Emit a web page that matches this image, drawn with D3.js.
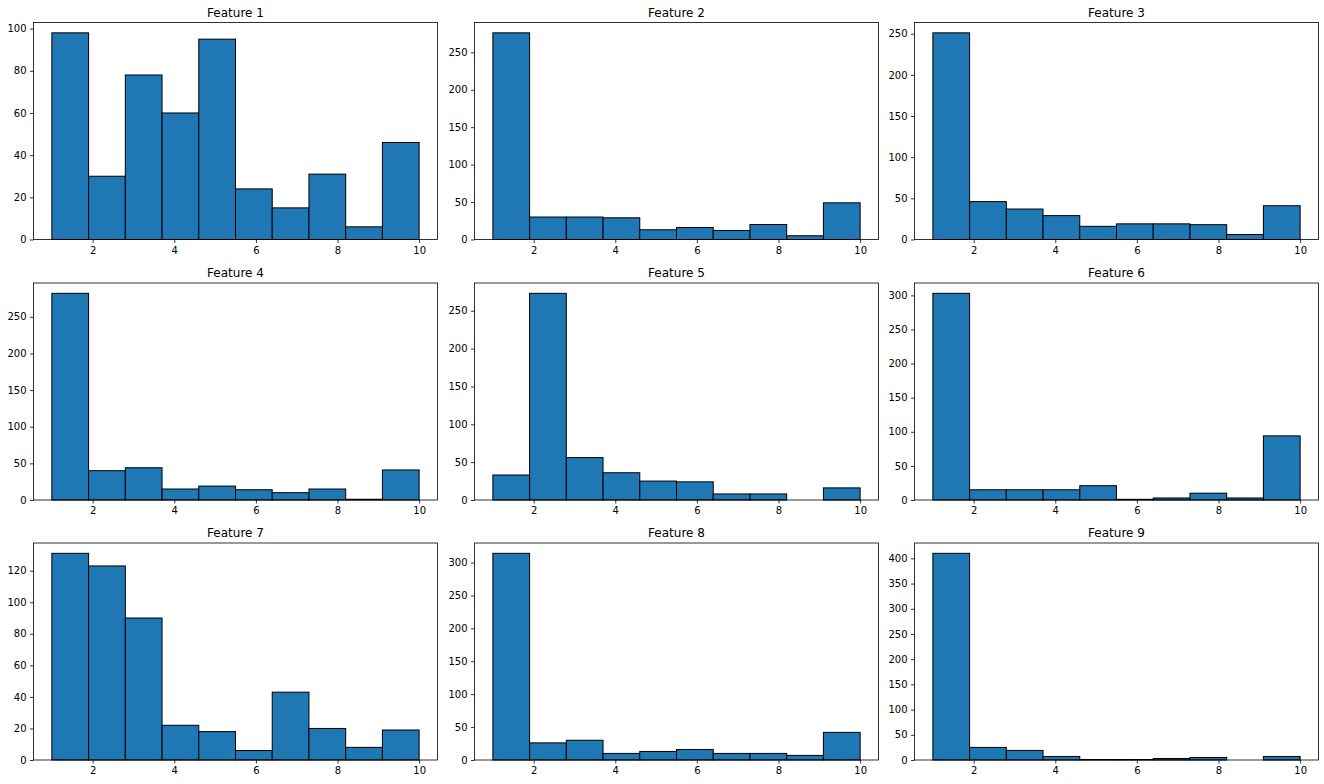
<!DOCTYPE html>
<html><head><meta charset="utf-8">
<script src="https://cdn.jsdelivr.net/npm/d3@7"></script>
<style>
html,body{margin:0;padding:0;background:#fff;}
svg{display:block;}
text{font-family:"DejaVu Sans",sans-serif;}
</style></head>
<body><svg id="chart" width="1324" height="784"></svg>
<script>
const titles = ["Feature 1","Feature 2","Feature 3","Feature 4","Feature 5","Feature 6","Feature 7","Feature 8","Feature 9"];
const binEdges = [1,1.9,2.8,3.7,4.6,5.5,6.4,7.3,8.2,9.1,10];
const f1 = [98,30,78,60,95,24,15,31,6,46];
const f2 = [276,30,30,29,13,16,12,20,5,49];
const f3 = [251,46,37,29,16,19,19,18,6,41];
const f4 = [282,40,44,15,19,14,10,15,1,41];
const f5 = [33,273,56,36,25,24,8,8,0,16];
const f6 = [303,15,15,15,21,1,3,10,3,94];
const f7 = [131,123,90,22,18,6,43,20,8,19];
const f8 = [314,26,30,10,13,16,10,10,7,42];
const f9 = [410,25,19,7,1,1,3,5,0,7];
const series = [f1,f2,f3,f4,f5,f6,f7,f8,f9];
const xTicks = [2,4,6,8,10];
const yTicks20 = [0,20,40,60,80,100];
const yTicks50a = [0,50,100,150,200,250];
const yTicks50b = [0,50,100,150,200,250,300];
const yTicks7 = [0,20,40,60,80,100,120];
const yTicks9 = [0,50,100,150,200,250,300,350,400];
const yTicksList = [yTicks20,yTicks50a,yTicks50a,yTicks50a,yTicks50a,yTicks50b,yTicks7,yTicks50b,yTicks9];

const svg = d3.select("#chart");
const colLeft = [33.5, 474.5, 914.5];
const rowTop = [22.5, 283, 543];
const W = 404, H = 217;

series.forEach((vals, i) => {
  const c = i % 3, r = Math.floor(i / 3);
  const g = svg.append("g").attr("transform", `translate(${colLeft[c]},${rowTop[r]})`);
  const span = binEdges[binEdges.length-1] - binEdges[0];
  const x = d3.scaleLinear().domain([binEdges[0] - span*0.05, binEdges[binEdges.length-1] + span*0.05]).range([0, W]);
  const y = d3.scaleLinear().domain([0, d3.max(vals)*1.05]).range([H, 0]);
  const bins = vals.map((v, k) => ({x0: binEdges[k], x1: binEdges[k+1], v}));
  g.selectAll("rect.bar").data(bins.filter(d => d.v > 0)).join("rect")
    .attr("class","bar")
    .attr("x", d => x(d.x0)).attr("width", d => x(d.x1) - x(d.x0))
    .attr("y", d => y(d.v)).attr("height", d => y(0) - y(d.v))
    .attr("fill", "#1f77b4").attr("stroke", "#000").attr("stroke-width", 1);
  const xa = g.append("g").attr("transform", `translate(0,${H})`)
    .call(d3.axisBottom(x).tickValues(xTicks).tickSize(3.5).tickPadding(3.5).tickFormat(d3.format("d")));
  const ya = g.append("g")
    .call(d3.axisLeft(y).tickValues(yTicksList[i]).tickSize(3.5).tickPadding(3.5).tickFormat(d3.format("d")));
  [xa, ya].forEach(a => {
    a.select(".domain").remove();
    a.selectAll("text").attr("font-size", 10).attr("fill", "#000").attr("font-family", "DejaVu Sans");
    a.selectAll("line").attr("stroke", "#000").attr("stroke-width", 0.8);
  });
  g.append("rect").attr("x",0).attr("y",0).attr("width",W).attr("height",H)
    .attr("fill","none").attr("stroke","#000").attr("stroke-width",0.8);
  g.append("text").attr("x", W/2).attr("y", -6).attr("text-anchor","middle")
    .attr("font-size", 12).attr("fill","#000").text(titles[i]);
});
</script></body></html>
